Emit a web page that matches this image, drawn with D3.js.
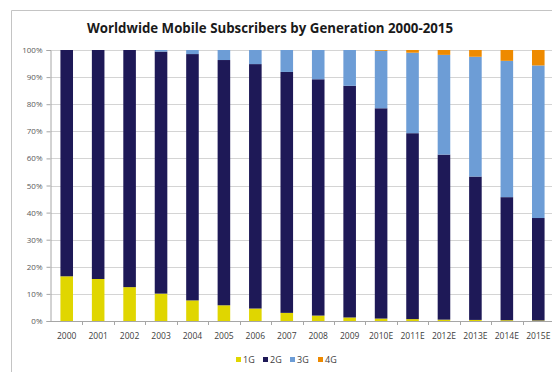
<!DOCTYPE html>
<html>
<head>
<meta charset="utf-8">
<script src="https://cdn.jsdelivr.net/npm/d3@7"></script>
<style>
  body { margin: 0; background: #fff; }
  svg text { font-family: "Open Sans", "Liberation Sans", sans-serif; }
</style>
</head>
<body>
<svg id="chart"></svg>
<script>
// data (percent of subscribers)
var years = ['2000','2001','2002','2003','2004','2005','2006','2007','2008','2009',
             '2010E','2011E','2012E','2013E','2014E','2015E'];
var g1 = [16.5, 15.5, 12.5, 10.1, 7.6, 5.8, 4.6, 3.0, 2.0, 1.3, 0.9, 0.7, 0.5, 0.4, 0.3, 0.2];
var g2 = [83.5, 84.5, 87.5, 89.3, 90.9, 90.5, 90.2, 88.9, 87.2, 85.5, 77.6, 68.6, 60.9, 52.9, 45.4, 37.8];
var g3 = [0, 0, 0, 0.6, 1.5, 3.7, 5.2, 8.1, 10.8, 13.2, 21.2, 29.7, 36.8, 44.2, 50.3, 56.3];
var g4 = [0, 0, 0, 0, 0, 0, 0, 0, 0, 0, 0.3, 1.0, 1.8, 2.5, 4.0, 5.7];
var seriesNames = ['1G', '2G', '3G', '4G'];
var colors = ['#e0d600', '#1e1957', '#6d9dd6', '#ee8a00'];
var yTicks = [0, 10, 20, 30, 40, 50, 60, 70, 80, 90, 100];

var width = 552, height = 372;
var svg = d3.select('#chart')
    .attr('width', width)
    .attr('height', height);

// outer frame (runs off the right and bottom)
svg.append('path')
    .attr('d', 'M11.5,' + (height + 2) + 'V10.5H' + (width + 2))
    .attr('fill', 'none')
    .attr('stroke', '#c4c4c4')
    .attr('stroke-width', 1);

svg.append('text')
    .attr('x', 270)
    .attr('y', 33)
    .attr('text-anchor', 'middle')
    .attr('font-size', 15)
    .attr('font-weight', 700)
    .attr('fill', '#1a1a1a')
    .attr('textLength', 366)
    .attr('lengthAdjust', 'spacingAndGlyphs')
    .text('Worldwide Mobile Subscribers by Generation 2000-2015');

var plotLeft = 51, plotRight = 554, plotTop = 50, plotBottom = 321;

var x = d3.scaleBand()
    .domain(years)
    .range([plotLeft, plotRight])
    .paddingInner(0.6)
    .paddingOuter(0.3);

var y = d3.scaleLinear()
    .domain([0, 100])
    .range([plotBottom, plotTop]);

// gridlines
svg.append('g')
    .selectAll('line')
    .data(yTicks.slice(1))
    .enter()
    .append('line')
    .attr('x1', plotLeft)
    .attr('x2', plotRight)
    .attr('y1', function(d) { return Math.round(y(d)) + 0.5; })
    .attr('y2', function(d) { return Math.round(y(d)) + 0.5; })
    .attr('stroke', '#d4d4d4');

// stack the series
var rows = years.map(function(yr, i) {
    return { year: yr, '1G': g1[i], '2G': g2[i], '3G': g3[i], '4G': g4[i] };
});
var stacked = d3.stack().keys(seriesNames)(rows);

svg.append('g')
    .selectAll('g')
    .data(stacked)
    .enter()
    .append('g')
    .attr('fill', function(d, i) { return colors[i]; })
    .selectAll('rect')
    .data(function(d) { return d; })
    .enter()
    .append('rect')
    .attr('x', function(d) { return x(d.data.year); })
    .attr('width', x.bandwidth())
    .attr('y', function(d) { return y(d[1]); })
    .attr('height', function(d) { return y(d[0]) - y(d[1]); });

// y axis
var yAxis = d3.axisLeft(y)
    .tickValues(yTicks)
    .tickFormat(function(d) { return d + '%'; })
    .tickSize(4)
    .tickPadding(4);

var gy = svg.append('g')
    .attr('transform', 'translate(' + (plotLeft - 0.5) + ',0)')
    .call(yAxis);
gy.select('.domain').attr('stroke', '#a6a6a6');
gy.selectAll('.tick line').attr('stroke', '#a6a6a6');
gy.selectAll('.tick text')
    .attr('font-size', 8)
    .attr('fill', '#595959')
    .style('font-family', '"Open Sans", sans-serif');

// x axis: line plus ticks between categories
var step = x.step();
var gx = svg.append('g');
gx.append('line')
    .attr('x1', plotLeft)
    .attr('x2', plotRight)
    .attr('y1', plotBottom + 0.5)
    .attr('y2', plotBottom + 0.5)
    .attr('stroke', '#a6a6a6');
gx.selectAll('line.tk')
    .data(years)
    .enter()
    .append('line')
    .attr('class', 'tk')
    .attr('x1', function(d) { return Math.round(x(d) + x.bandwidth() / 2 + step / 2) + 0.5; })
    .attr('x2', function(d) { return Math.round(x(d) + x.bandwidth() / 2 + step / 2) + 0.5; })
    .attr('y1', plotBottom)
    .attr('y2', plotBottom + 4)
    .attr('stroke', '#a6a6a6');
gx.selectAll('text')
    .data(years)
    .enter()
    .append('text')
    .attr('x', function(d) { return x(d) + x.bandwidth() / 2; })
    .attr('y', 339)
    .attr('text-anchor', 'middle')
    .attr('font-size', 8.5)
    .attr('fill', '#404040')
    .text(function(d) { return d; });

// legend
var legendX = [236, 263, 290, 318];
var lg = svg.append('g')
    .selectAll('g')
    .data(seriesNames)
    .enter()
    .append('g')
    .attr('transform', function(d, i) { return 'translate(' + legendX[i] + ',357)'; });
lg.append('rect')
    .attr('width', 5)
    .attr('height', 5)
    .attr('fill', function(d, i) { return colors[i]; });
lg.append('text')
    .attr('x', 7)
    .attr('y', 6)
    .attr('font-size', 9)
    .attr('fill', '#404040')
    .text(function(d) { return d; });
</script>
</body>
</html>
